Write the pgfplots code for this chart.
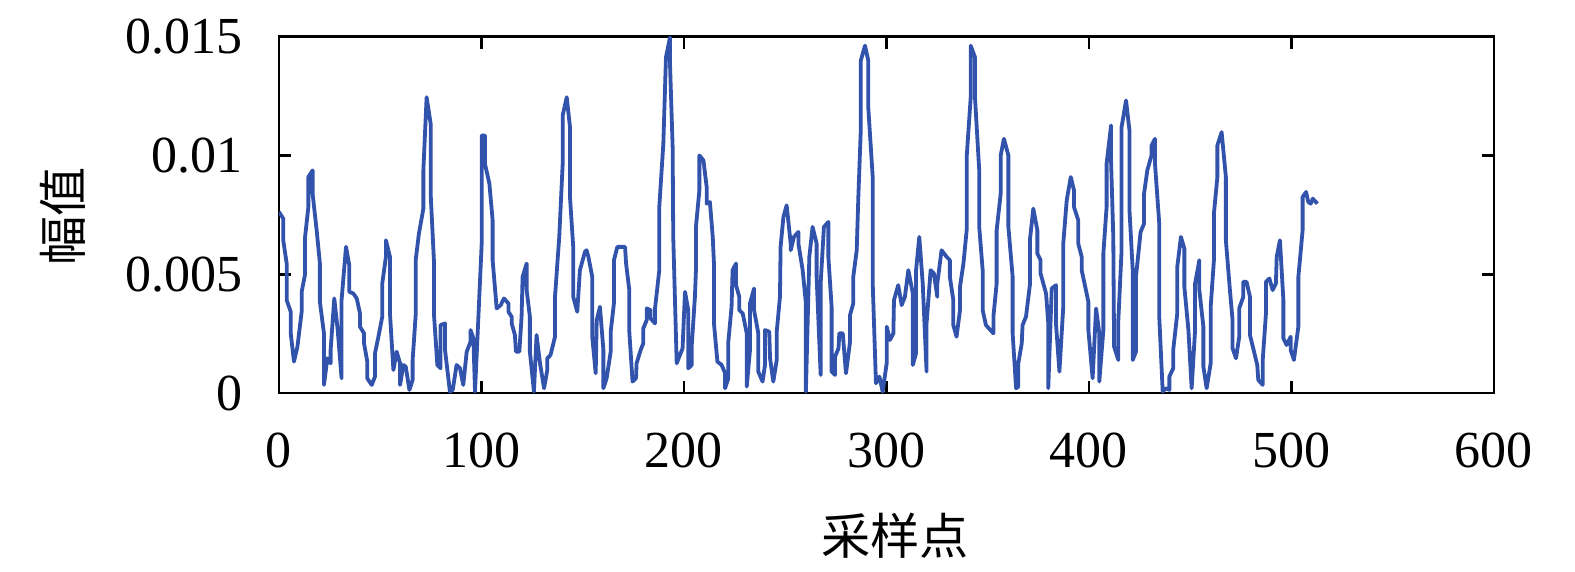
\documentclass[border=0pt]{standalone}
\usepackage{pgfplots}
\pgfplotsset{compat=1.18}
\usepackage{fontspec}
\setmainfont{Liberation Serif}
\newfontfamily\cjk{Noto Sans CJK SC}
\definecolor{lineblue}{RGB}{50,83,172}
\begin{document}
\begin{tikzpicture}
\path[use as bounding box] (-69.75pt,-44.5pt) rectangle (324pt,98.25pt);
\begin{axis}[
  at={(0,0)}, anchor=south west,
  scale only axis,
  width=303.75pt, height=89.1pt,
  xmin=0, xmax=600, ymin=0, ymax=0.015,
  xtick={0,100,200,300,400,500,600},
  ytick={0,0.005,0.01,0.015},
  yticklabels={0,0.005,0.01,0.015},
  scaled y ticks=false,
  tick align=inside,
  major tick length=3pt,
  axis line style={line width=0.7pt},
  every tick/.style={line width=0.7pt, black},
  tick label style={font=\fontsize{13}{15}\selectfont},
  /pgf/number format/assume math mode=true,
  xticklabel shift=6.5pt,
  yticklabel shift=5.5pt,
  xlabel={\cjk 采样点},
  ylabel={\cjk 幅值},
  label style={font=\fontsize{12.3}{14}\selectfont},
  xlabel style={at={(axis description cs:0.507,-0.40)}, anchor=center},
  ylabel style={at={(axis description cs:-0.178,0.496)}, anchor=center, rotate=0},
]
\addplot[color=lineblue, line width=0.95pt, line join=round] coordinates {
(0,7.62e-3)(2.1,7.34e-3)(2.1,6.43e-3)(3.8,5.45e-3)(3.8,3.91e-3)(5.8,3.42e-3)(5.8,2.51e-3)(7.4,1.32e-3)(9.1,1.95e-3)(11.2,3.42e-3)(11.2,4.26e-3)(12.8,4.96e-3)(12.8,6.50e-3)(14.5,7.83e-3)(14.5,9.09e-3)(16.6,9.37e-3)(16.6,8.39e-3)(18.6,6.85e-3)(20.2,5.45e-3)(20.2,3.84e-3)(22.2,2.51e-3)(22.2,0.34e-3)(23.9,1.46e-3)(25.5,1.25e-3)(25.5,1.81e-3)(27.3,3.98e-3)(29,2.65e-3)(30.9,0.62e-3)(30.9,3.91e-3)(33.1,6.15e-3)(34.7,5.38e-3)(34.7,4.26e-3)(36.7,4.19e-3)(38.4,3.98e-3)(40,3.35e-3)(40,2.79e-3)(42,2.51e-3)(42,2.09e-3)(43.6,1.32e-3)(43.6,0.62e-3)(45.8,0.34e-3)(47.4,0.69e-3)(47.4,1.67e-3)(49.1,2.37e-3)(51,3.21e-3)(51,4.61e-3)(52.8,5.73e-3)(52.8,6.43e-3)(54.8,5.73e-3)(54.8,3.35e-3)(56.5,0.97e-3)(58.1,1.74e-3)(59.8,1.25e-3)(59.8,0.34e-3)(61.4,1.18e-3)(62.6,1.11e-3)(64.4,0.13e-3)(66,0.55e-3)(66,1.39e-3)(67.5,3.28e-3)(67.5,5.59e-3)(69.1,6.71e-3)(71.3,7.76e-3)(71.3,9.37e-3)(72.9,12.45e-3)(74.9,11.33e-3)(74.9,8.39e-3)(76.5,5.59e-3)(76.5,3.35e-3)(78.2,1.18e-3)(79.8,1.04e-3)(79.8,2.86e-3)(82,2.93e-3)(82,1.81e-3)
(84.4,0.06e-3)(85.8,0.13e-3)(87.7,1.18e-3)(89.4,1.04e-3)(91.0,0.34e-3)(92.7,1.74e-3)(94.6,2.16e-3)(94.6,2.65e-3)(96.0,2.30e-3)(96.8,0.06e-3)(98.4,3.07e-3)(100.1,6.29e-3)(100.1,10.84e-3)(101.7,10.84e-3)(101.7,9.65e-3)(103.9,8.81e-3)(105.5,7.27e-3)(105.5,5.59e-3)(107.5,3.56e-3)(109.5,3.70e-3)(111.1,3.98e-3)(113.3,3.77e-3)(113.3,3.42e-3)(114.9,3.21e-3)(114.9,2.93e-3)(116.5,2.44e-3)(117.0,1.74e-3)(118.7,1.74e-3)(119.8,3.21e-3)(120.3,4.89e-3)(122.3,5.45e-3)(122.3,4.33e-3)(123.9,3.21e-3)(123.9,1.74e-3)(125.9,0.06e-3)(127.2,2.44e-3)(128.9,1.25e-3)(130.9,0.20e-3)(132.5,0.97e-3)(132.5,1.46e-3)(134.1,1.60e-3)(136.3,2.37e-3)(136.3,4.05e-3)(138.4,6.57e-3)(140.1,9.65e-3)(140.1,11.68e-3)(142.1,12.45e-3)(143.7,11.19e-3)(143.7,8.25e-3)(145.3,6.15e-3)(145.3,4.05e-3)(147.3,3.42e-3)(148.6,5.17e-3)(151.1,5.94e-3)(151.9,6.01e-3)(152.8,5.73e-3)(154.7,4.89e-3)(154.7,2.37e-3)(156.4,0.83e-3)(156.9,3.07e-3)(158.5,3.63e-3)(160.2,1.81e-3)(160.2,0.20e-3)(161.8,0.62e-3)(163.8,1.74e-3)(163.8,2.58e-3)(165.4,3.77e-3)(165.4,5.59e-3)
(167.1,6.15e-3)(170.9,6.15e-3)(171.4,5.45e-3)(173.0,4.33e-3)(173.0,2.58e-3)(174.6,0.48e-3)(176.3,0.62e-3)(176.6,1.25e-3)(178.6,1.81e-3)(179.9,2.09e-3)(179.9,2.72e-3)(181.6,3.07e-3)(181.6,3.56e-3)(183.5,3.49e-3)(183.5,3.14e-3)(185.7,2.93e-3)(185.7,3.56e-3)(187.8,5.17e-3)(187.8,7.83e-3)(189.8,10.49e-3)(191.1,14.13e-3)(193.1,14.97e-3)(193.1,13.85e-3)(194.4,10.35e-3)(194.7,6.57e-3)(196.4,1.25e-3)(198.0,1.60e-3)(199.3,1.88e-3)(200.5,4.26e-3)(202.1,3.49e-3)(202.1,1.04e-3)(203.8,1.18e-3)(203.8,1.95e-3)(205.4,4.05e-3)(205.9,5.17e-3)(205.9,6.99e-3)(207.6,8.53e-3)(207.6,10.00e-3)(209.6,9.79e-3)(211.2,8.67e-3)(211.2,7.97e-3)(212.8,8.04e-3)(214.2,6.57e-3)(214.8,5.45e-3)(214.8,2.93e-3)(216.5,1.32e-3)(218.6,1.18e-3)(220.3,0.83e-3)(220.3,0.20e-3)(221.9,0.62e-3)(221.9,2.16e-3)(223.5,3.63e-3)(224.0,5.17e-3)(225.7,5.45e-3)(225.7,4.54e-3)(227.3,4.05e-3)(227.3,3.49e-3)(229.0,3.35e-3)(231.0,2.51e-3)(231.0,0.27e-3)(232.6,1.81e-3)(232.6,3.77e-3)(234.6,4.40e-3)(234.6,3.49e-3)(236.7,2.51e-3)(236.7,0.90e-3)(238.8,0.48e-3)(240.0,1.18e-3)(240.0,2.65e-3)(242.1,2.58e-3)(242.5,1.46e-3)(244.1,0.48e-3)(245.8,1.39e-3)(245.8,2.58e-3)(247.4,4.05e-3)(247.7,6.15e-3)(249.1,7.41e-3)(250.7,7.90e-3)
(252.7,6.29e-3)(252.7,6.01e-3)(254.3,6.57e-3)(256.5,6.78e-3)(256.5,6.29e-3)(258.6,5.17e-3)(260.2,3.77e-3)(260.2,0.06e-3)(261.9,5.73e-3)(263.5,6.99e-3)(265.5,6.29e-3)(265.5,4.89e-3)(267.5,0.76e-3)(267.5,4.61e-3)(269.1,6.99e-3)(271.3,7.20e-3)(271.3,5.73e-3)(272.9,3.63e-3)(272.9,0.90e-3)(274.6,0.76e-3)(274.6,1.53e-3)(276.3,1.88e-3)(276.7,2.51e-3)(278.4,2.51e-3)(280.0,0.83e-3)(282.0,2.16e-3)(282.0,3.28e-3)(283.6,3.77e-3)(283.6,4.89e-3)(285.3,6.01e-3)(286.1,8.25e-3)(287.3,11.05e-3)(287.3,13.99e-3)(289.4,14.62e-3)(291.0,13.99e-3)(291.0,12.03e-3)(293.2,9.09e-3)(293.2,4.61e-3)(294.8,0.41e-3)(296.5,0.69e-3)(298.1,0.06e-3)(300.1,1.25e-3)(300.1,2.79e-3)(301.7,2.23e-3)(303.4,2.51e-3)(303.7,3.91e-3)(305.8,4.54e-3)(307.5,3.70e-3)(309.1,4.05e-3)(310.8,5.17e-3)(313.0,4.19e-3)(313.0,1.18e-3)(314.6,1.67e-3)(314.6,5.17e-3)(316.2,6.57e-3)(317.9,4.61e-3)(319.8,0.90e-3)(319.8,2.93e-3)(321.8,5.17e-3)(323.4,5.03e-3)(325.1,4.05e-3)(325.1,4.61e-3)(327.2,6.01e-3)(329.7,5.73e-3)(331.3,5.59e-3)(331.3,4.89e-3)(333.0,3.91e-3)(333.0,2.86e-3)(334.6,2.37e-3)
(336.3,3.49e-3)(336.3,4.47e-3)(338.0,5.45e-3)(339.6,6.85e-3)(339.6,9.93e-3)(341.6,12.45e-3)(341.6,14.62e-3)(343.7,14.13e-3)(343.7,12.45e-3)(345.8,9.37e-3)(345.8,6.99e-3)(347.5,5.17e-3)(347.5,3.49e-3)(349.1,2.86e-3)(352.8,2.51e-3)(352.8,3.21e-3)(354.4,4.61e-3)(354.4,6.85e-3)(356.4,8.39e-3)(356.4,10.00e-3)(358.0,10.70e-3)(360.2,10.00e-3)(360.2,6.99e-3)(362.3,4.89e-3)(362.3,2.51e-3)(364.0,0.20e-3)(365.1,0.27e-3)(365.1,1.25e-3)(366.8,2.09e-3)(367.2,2.86e-3)(368.9,3.21e-3)(370.9,4.61e-3)(370.9,6.50e-3)(372.5,7.76e-3)(374.5,6.85e-3)(374.5,5.87e-3)(376.1,5.59e-3)(376.1,5.03e-3)(378.8,4.19e-3)(379.9,2.93e-3)(379.9,0.20e-3)(381.6,4.40e-3)(383.7,4.54e-3)(383.7,2.93e-3)(385.4,0.90e-3)(387.3,3.63e-3)(387.3,6.29e-3)(389.0,8.11e-3)(391.0,9.09e-3)(392.6,8.53e-3)(392.6,7.83e-3)(394.7,7.27e-3)(394.7,6.29e-3)(396.4,5.73e-3)(396.4,5.17e-3)(399.7,3.84e-3)(399.7,2.65e-3)(401.8,0.62e-3)(403.5,3.56e-3)(405.1,2.51e-3)(405.1,0.48e-3)(407.1,2.65e-3)(407.1,5.87e-3)(408.7,7.83e-3)(408.7,9.65e-3)(410.9,11.26e-3)(410.9,9.79e-3)(412.0,6.57e-3)(412.4,1.95e-3)(414.5,1.39e-3)(414.5,3.07e-3)(416.1,6.01e-3)(416.1,11.19e-3)(418.3,12.31e-3)(420.0,11.05e-3)
(420.0,7.69e-3)(421.6,5.17e-3)(421.6,1.39e-3)(423.2,1.74e-3)(423.2,4.89e-3)(425.5,6.78e-3)(427.2,7.13e-3)(427.2,8.39e-3)(428.8,9.37e-3)(430.9,10.00e-3)(430.9,10.42e-3)(432.6,10.70e-3)(432.6,9.65e-3)(434.7,7.13e-3)(434.7,3.21e-3)(436.4,0.06e-3)(438.0,0.20e-3)(439.7,0.13e-3)(439.7,0.69e-3)(441.6,1.04e-3)(441.6,1.81e-3)(443.6,3.35e-3)(443.6,5.31e-3)(445.4,6.57e-3)(447.1,6.08e-3)(447.1,4.47e-3)(449.1,2.65e-3)(450.7,0.20e-3)(452.4,2.65e-3)(452.4,4.61e-3)(454.5,5.59e-3)(454.5,4.33e-3)(456.5,2.79e-3)(456.5,1.11e-3)(458.1,0.20e-3)(460.1,1.25e-3)(460.1,3.63e-3)(461.7,5.59e-3)(461.7,7.55e-3)(463.4,9.09e-3)(463.4,10.42e-3)(465.5,10.98e-3)(467.6,9.09e-3)(467.6,6.43e-3)(469.6,4.33e-3)(470.9,3.07e-3)(470.9,1.88e-3)(472.6,1.46e-3)(474.2,2.37e-3)(474.2,3.56e-3)(476.2,4.05e-3)(476.2,4.68e-3)(477.8,4.68e-3)(479.5,4.05e-3)(479.5,2.44e-3)(481.5,1.74e-3)(483.1,1.18e-3)(483.6,0.55e-3)(485.8,0.34e-3)(485.8,1.39e-3)(487.4,3.35e-3)(487.4,4.68e-3)(489.1,4.82e-3)(490.7,4.33e-3)(492.3,4.61e-3)(492.7,5.73e-3)(494.3,6.43e-3)(496.0,3.91e-3)(496.0,2.30e-3)(497.6,2.02e-3)(499.6,2.37e-3)(499.6,1.81e-3)(501.2,1.39e-3)(503.4,2.79e-3)(503.4,4.89e-3)(505.5,6.85e-3)(505.5,8.25e-3)(507.2,8.46e-3)(508.3,8.04e-3)(509.5,7.97e-3)(510.5,8.18e-3)(512.8,7.97e-3)
};
\end{axis}
\end{tikzpicture}
\end{document}
